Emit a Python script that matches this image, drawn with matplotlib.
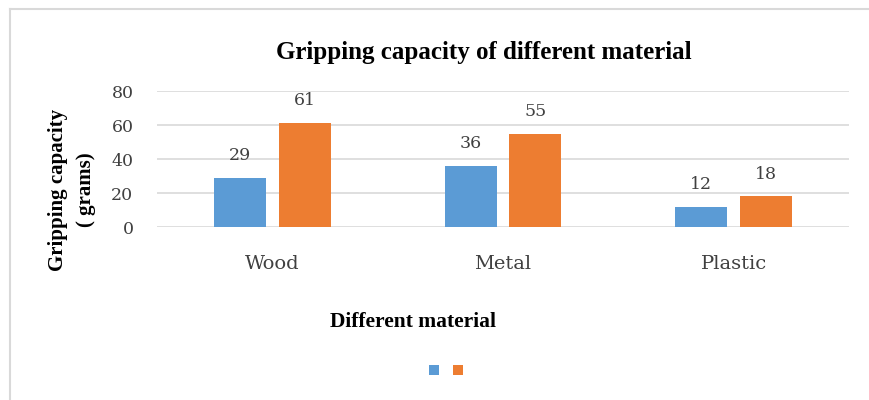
import matplotlib.pyplot as plt
import numpy as np

materials = ['Wood', 'Metal', 'Plastic']
series_a = [29, 36, 12]
series_b = [61, 55, 18]
yticks = [0, 20, 40, 60, 80]

plt.rcParams['font.family'] = ['Liberation Serif', 'DejaVu Serif']
num_font = ['DejaVu Serif']

fig = plt.figure(figsize=(8.69, 4.0), dpi=100)
# thin grey frame on top and left
fig.add_artist(plt.Line2D([10 / 869, 1], [1 - 9 / 400, 1 - 9 / 400], color='#d9d9d9', lw=1.5))
fig.add_artist(plt.Line2D([10 / 869, 10 / 869], [0, 1 - 9 / 400], color='#d9d9d9', lw=1.5))

ax = fig.add_axes([157 / 869, 1 - 227 / 400, 692 / 869, 136 / 400])
x = np.arange(len(materials))
w = 0.225
off = (w + 0.056) / 2
b1 = ax.bar(x - off, series_a, w, color='#5b9bd5', zorder=3)
b2 = ax.bar(x + off, series_b, w, color='#ed7d31', zorder=3)

for bars, vals in ((b1, series_a), (b2, series_b)):
    for r, v in zip(bars, vals):
        ax.annotate(str(v), (r.get_x() + r.get_width() / 2, v), xytext=(0, 10),
                    textcoords='offset points', ha='center', va='bottom',
                    fontsize=12.5, color='#404040', family=num_font)

ax.set_xlim(-0.5, 2.5)
ax.set_ylim(0, 80)
ax.set_yticks(yticks)
ax.set_xticks(x)
ax.set_xticklabels(materials)
for lab in ax.get_xticklabels() + ax.get_yticklabels():
    lab.set_family(num_font)
ax.tick_params(axis='y', length=0, pad=17, labelsize=12.5, labelcolor='#404040')
ax.tick_params(axis='x', length=0, pad=20, labelsize=14, labelcolor='#404040')
ax.grid(axis='y', color='#d9d9d9', lw=1.2, zorder=0)
for s in ax.spines.values():
    s.set_visible(False)

fig.text(484 / 869, 1 - 52 / 400, 'Gripping capacity of different material', ha='center', va='center',
         fontsize=18, fontweight='bold')
fig.text(72 / 869, 1 - 190 / 400, 'Gripping capacity\n( grams)', ha='center', va='center',
         rotation=90, fontsize=15, fontweight='bold', linespacing=1.5)
fig.text(413 / 869, 1 - 322 / 400, 'Different material', ha='center', va='center',
         fontsize=15.5, fontweight='bold')

fig.legend([b1, b2], ['', ''], loc='center', bbox_to_anchor=(446 / 869, 1 - 371 / 400), ncol=2,
           frameon=False, handlelength=0.7, handleheight=0.7, handletextpad=0, columnspacing=1.0)

fig.savefig('out.png', dpi=100)
